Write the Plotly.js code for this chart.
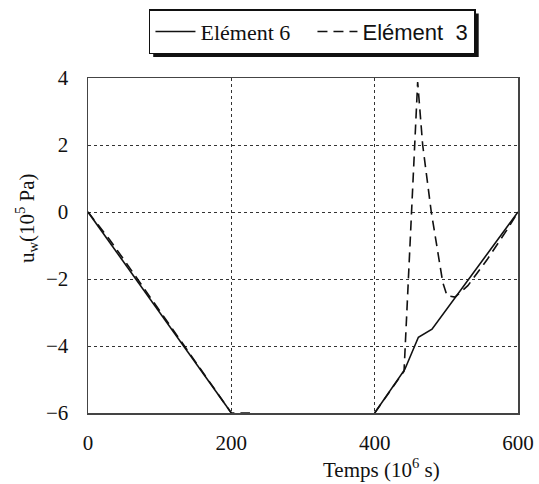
<!DOCTYPE html>
<html>
<head>
<meta charset="utf-8">
<script src="https://cdn.plot.ly/plotly-3.0.1.min.js"></script>
<style>html,body{margin:0;padding:0;background:#fff;}#chart{width:539px;height:484px;}</style>
</head>
<body>
<div id="chart"></div>
<script>
// Element 6 (solid)
const timeSolid = [0, 200, null, 400, 442, 461, 480, 600];
const uwSolid   = [0, -6, null, -6, -4.7, -3.74, -3.5, 0];
// Element 3 (dashed)
const timeDashed = [0, 30, 50, 100, 150, 200, 226, null, 400, 441, 460, 467, 479, 495, 501, 512, 530, 557, 585, 600];
const uwDashed   = [0, -0.82, -1.42, -2.95, -4.48, -6, -6, null, -6, -4.75, 3.88, 2, 0, -2.1, -2.5, -2.54, -2.2, -1.42, -0.52, 0];

const xTicks = [0, 200, 400, 600];
const yTicks = [-6, -4, -2, 0, 2, 4];

const serif = 'Liberation Serif';

const traces = [
  {x: timeSolid, y: uwSolid, type: 'scatter', mode: 'lines', connectgaps: false,
   name: 'Elément 6',
   line: {color: '#111', width: 1.6}},
  {x: timeDashed, y: uwDashed, type: 'scatter', mode: 'lines', connectgaps: false,
   name: '<span style="font-family:\'Liberation Sans\'">Elément  3</span>',
   line: {color: '#111', width: 1.6, dash: '10px,6px'}}
];

const layout = {
  width: 539, height: 484,
  margin: {l: 88, r: 21, t: 78, b: 71, autoexpand: false},
  paper_bgcolor: '#fff', plot_bgcolor: '#fff',
  font: {family: serif, size: 21, color: '#111'},
  showlegend: true,
  legend: {orientation: 'h', x: 0.522, xanchor: 'center', yref: 'container', y: 0.981, yanchor: 'top',
           bordercolor: '#111', borderwidth: 1.5, bgcolor: '#fff',
           itemwidth: 40, entrywidth: 107, entrywidthmode: 'pixels',
           font: {family: serif, size: 22, color: '#111'}, traceorder: 'normal'},
  xaxis: {range: [0, 600], tickvals: xTicks, showgrid: true, gridcolor: '#333', griddash: 'dot', gridwidth: 1,
          showline: true, linecolor: '#444', linewidth: 1.5, mirror: true, zeroline: false,
          ticks: '', ticklabelstandoff: 10, tickfont: {family: serif, size: 21}},
  yaxis: {range: [-6, 4], tickvals: yTicks, showgrid: true, gridcolor: '#333', griddash: 'dot', gridwidth: 1,
          showline: true, linecolor: '#444', linewidth: 1.5, mirror: true, zeroline: false,
          ticks: '', ticklabelstandoff: 14, tickfont: {family: serif, size: 21}},
  annotations: [
    {text: 'Temps (10<sup>6</sup> s)', xref: 'paper', yref: 'paper', x: 0.682, y: -0.165,
     xanchor: 'center', yanchor: 'middle', showarrow: false, font: {family: serif, size: 21}},
    {text: 'u<sub>w</sub>(10<sup>5</sup> Pa)', xref: 'paper', yref: 'paper', x: -0.144, y: 0.582,
     xanchor: 'center', yanchor: 'middle', textangle: -90, showarrow: false, font: {family: serif, size: 21}}
  ]
};

Plotly.newPlot('chart', traces, layout, {displayModeBar: false, staticPlot: true}).then(function (gd) {
  // drop shadow behind the legend box (right and bottom edges), derived from the legend's own box
  var bg = gd.querySelector('.legend .bg');
  if (!bg) return;
  var r = bg.getBoundingClientRect();
  var pr = gd.getBoundingClientRect();
  var s = gd._fullLayout._size;
  function px2x(px) { return (px - pr.left - s.l) / s.w; }
  function py2y(py) { return 1 - (py - pr.top - s.t) / s.h; }
  var off = 3.5;
  return Plotly.relayout(gd, {shapes: [{
    type: 'rect', xref: 'paper', yref: 'paper', layer: 'above',
    x0: px2x(r.left + off), x1: px2x(r.right + off),
    y0: py2y(r.top + off), y1: py2y(r.bottom + off),
    fillcolor: '#111', line: {width: 0}
  }]});
});
</script>
</body>
</html>
